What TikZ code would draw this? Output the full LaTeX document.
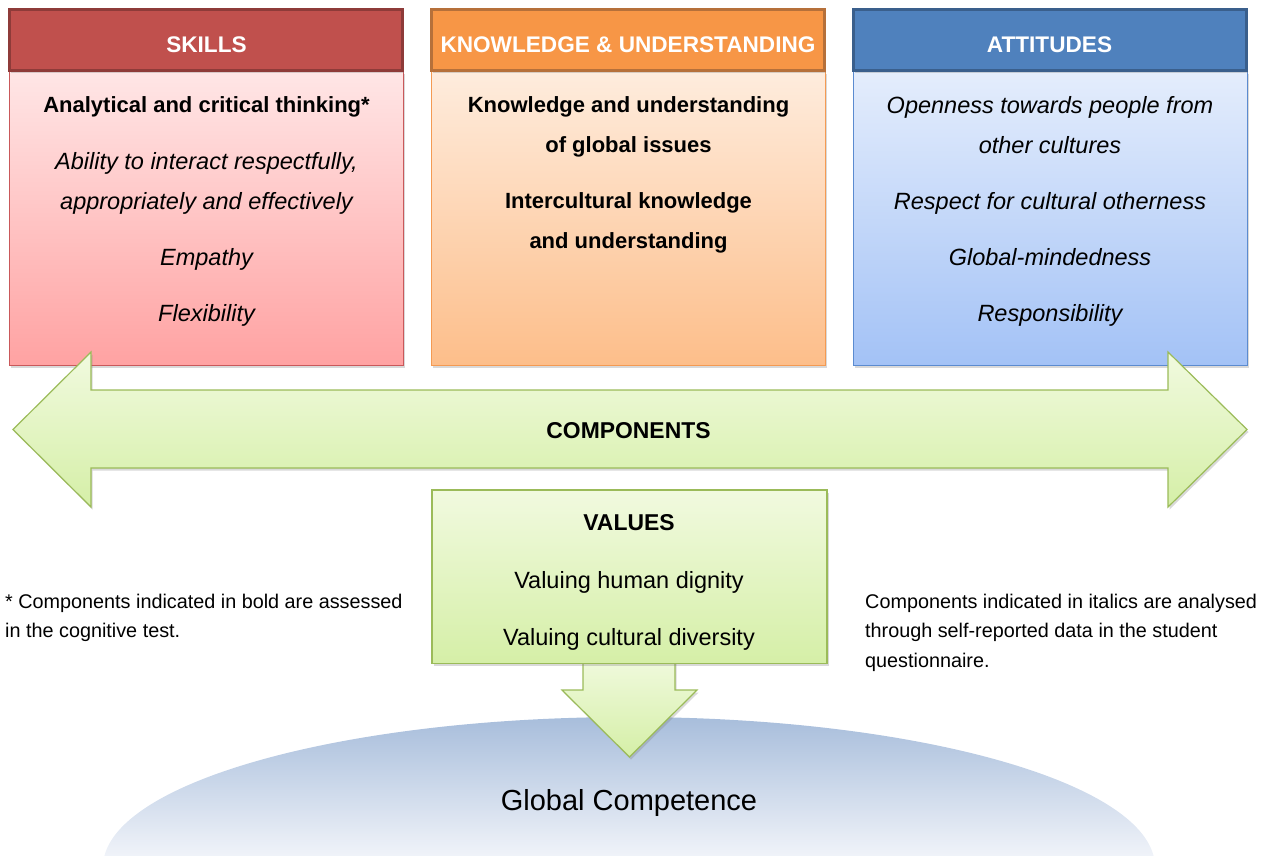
\documentclass[tikz,border=0pt]{standalone}
\usepackage{fontspec}
\setmainfont{Liberation Sans}
\usetikzlibrary{shadows}
\definecolor{skF}{HTML}{C0504D}
\definecolor{skD}{HTML}{8E3B39}
\definecolor{skT}{HTML}{FFE6E6}
\definecolor{skBt}{HTML}{FFA2A2}
\definecolor{skE}{HTML}{C9585A}
\definecolor{kuF}{HTML}{F79646}
\definecolor{kuD}{HTML}{B6703A}
\definecolor{kuT}{HTML}{FEECDD}
\definecolor{kuBt}{HTML}{FDBE8A}
\definecolor{kuE}{HTML}{F49A52}
\definecolor{atF}{HTML}{4F81BD}
\definecolor{atD}{HTML}{3A5F8C}
\definecolor{atT}{HTML}{E4EDFC}
\definecolor{atBt}{HTML}{A3C2F6}
\definecolor{atE}{HTML}{5B8BD0}
\definecolor{grT}{HTML}{F1FADF}
\definecolor{grBt}{HTML}{D5EFA7}
\definecolor{grE}{HTML}{9BBB59}
\definecolor{gTop}{HTML}{A7BDDB}
\definecolor{gBot}{HTML}{F0F3F9}
\begin{document}
\begin{tikzpicture}[x=1pt,y=-1pt,
  shadowed/.style={drop shadow={opacity=0.3,shadow xshift=1.5pt,shadow yshift=-2.5pt}},
  hdrbox/.style={rectangle,draw=#1,line width=3pt,inner sep=0pt,outer sep=0pt,
    minimum width=393pt,minimum height=61pt,shadowed},
  bodybox/.style={rectangle,draw=#1,line width=1.2pt,inner sep=0pt,outer sep=0pt,
    minimum width=394pt,minimum height=294pt,shadowed},
  htext/.style={anchor=base,inner sep=0pt,text=white,font=\fontsize{22.6}{26}\selectfont\bfseries},
  btext/.style={anchor=base,inner sep=0pt,font=\fontsize{22}{26}\selectfont\bfseries},
  itext/.style={anchor=base,inner sep=0pt,font=\fontsize{23.5}{27}\selectfont\itshape},
  rtext/.style={anchor=base,inner sep=0pt,font=\fontsize{23.5}{27}\selectfont},
  ctext/.style={anchor=base,inner sep=0pt,font=\fontsize{22.9}{26}\selectfont\bfseries},
  ftext/.style={anchor=base west,inner sep=0pt,font=\fontsize{19.8}{24}\selectfont},
  arrowshape/.style={draw=grE,line width=1.2pt,line join=miter,top color=grT,bottom color=grBt,shadowed}
]
\useasboundingbox (0,0) rectangle (1264,855);

% Global competence dome
\begin{scope}
  \clip (0,0) rectangle (1264,855);
  \clip (629,867) ellipse [x radius=526pt, y radius=150pt];
  \shade[top color=gTop,bottom color=gBot] (90,716) rectangle (1170,856);
\end{scope}
\node[rtext,font=\fontsize{29}{34}\selectfont] (gc) at (629,810) {Global Competence};

% Bodies
\node[bodybox=skE,top color=skT,bottom color=skBt] (skBody) at (206.3,218.7) {};
\node[bodybox=kuE,top color=kuT,bottom color=kuBt] (kuBody) at (628.5,218.7) {};
\node[bodybox=atE,top color=atT,bottom color=atBt] (atBody) at (1050.1,218.7) {};

% Headers
\node[hdrbox=skD,fill=skF] (skHead) at (206.3,39.5) {};
\node[hdrbox=kuD,fill=kuF] (kuHead) at (628.0,39.5) {};
\node[hdrbox=atD,fill=atF] (atHead) at (1049.5,39.5) {};
\node[htext] (skHt) at (206.5,52.3) {SKILLS};
\node[htext] (kuHt) at (628.0,52.3) {KNOWLEDGE \& UNDERSTANDING};
\node[htext] (atHt) at (1049.5,52.3) {ATTITUDES};

% Skills
\node[btext] (sk1) at (206.5,112.5) {Analytical and critical thinking*};
\node[itext] (sk2a) at (206.5,169) {Ability to interact respectfully,};
\node[itext] (sk2b) at (206.5,209) {appropriately and effectively};
\node[itext] (sk3) at (206.5,265) {Empathy};
\node[itext] (sk4) at (206.5,321) {Flexibility};

% Knowledge
\node[btext] (ku1a) at (628.5,112.5) {Knowledge and understanding};
\node[btext] (ku1b) at (628.5,152.5) {of global issues};
\node[btext] (ku2a) at (628.5,208.5) {Intercultural knowledge};
\node[btext] (ku2b) at (628.5,248.5) {and understanding};

% Attitudes
\node[itext] (at1a) at (1050,113) {Openness towards people from};
\node[itext] (at1b) at (1050,153) {other cultures};
\node[itext] (at2) at (1050,209) {Respect for cultural otherness};
\node[itext] (at3) at (1050,265) {Global-mindedness};
\node[itext] (at4) at (1050,321) {Responsibility};

% Components double arrow
\path[arrowshape] (13,429.5) -- (91,352) -- (91,390) -- (1168,390) -- (1168,352)
  -- (1247,429.5) -- (1168,507) -- (1168,468) -- (91,468) -- (91,507) -- cycle;
\node[ctext] (comp) at (628.5,438.3) {COMPONENTS};

% Values arrow and box
\path[arrowshape] (583,655) -- (675,655) -- (675,690) -- (697,690) -- (629.5,757)
  -- (562,690) -- (583,690) -- cycle;
\node[rectangle,draw=grE,line width=1.2pt,top color=grT,bottom color=grBt,
  minimum width=395pt,minimum height=173.5pt,inner sep=0pt,outer sep=0pt,shadowed]
  (valBox) at (629.5,576.8) {};
\node[ctext] (valT) at (629,530) {VALUES};
\node[rtext] (val1) at (629,588.5) {Valuing human dignity};
\node[rtext] (val2) at (629,645) {Valuing cultural diversity};

% Footnotes
\node[ftext] (fnL1) at (5,608) {* Components indicated in bold are assessed};
\node[ftext] (fnL2) at (5,637.5) {in the cognitive test.};
\node[ftext] (fnR1) at (865,608) {Components indicated in italics are analysed};
\node[ftext] (fnR2) at (865,637.5) {through self-reported data in the student};
\node[ftext] (fnR3) at (865,667) {questionnaire.};
\end{tikzpicture}
\end{document}
